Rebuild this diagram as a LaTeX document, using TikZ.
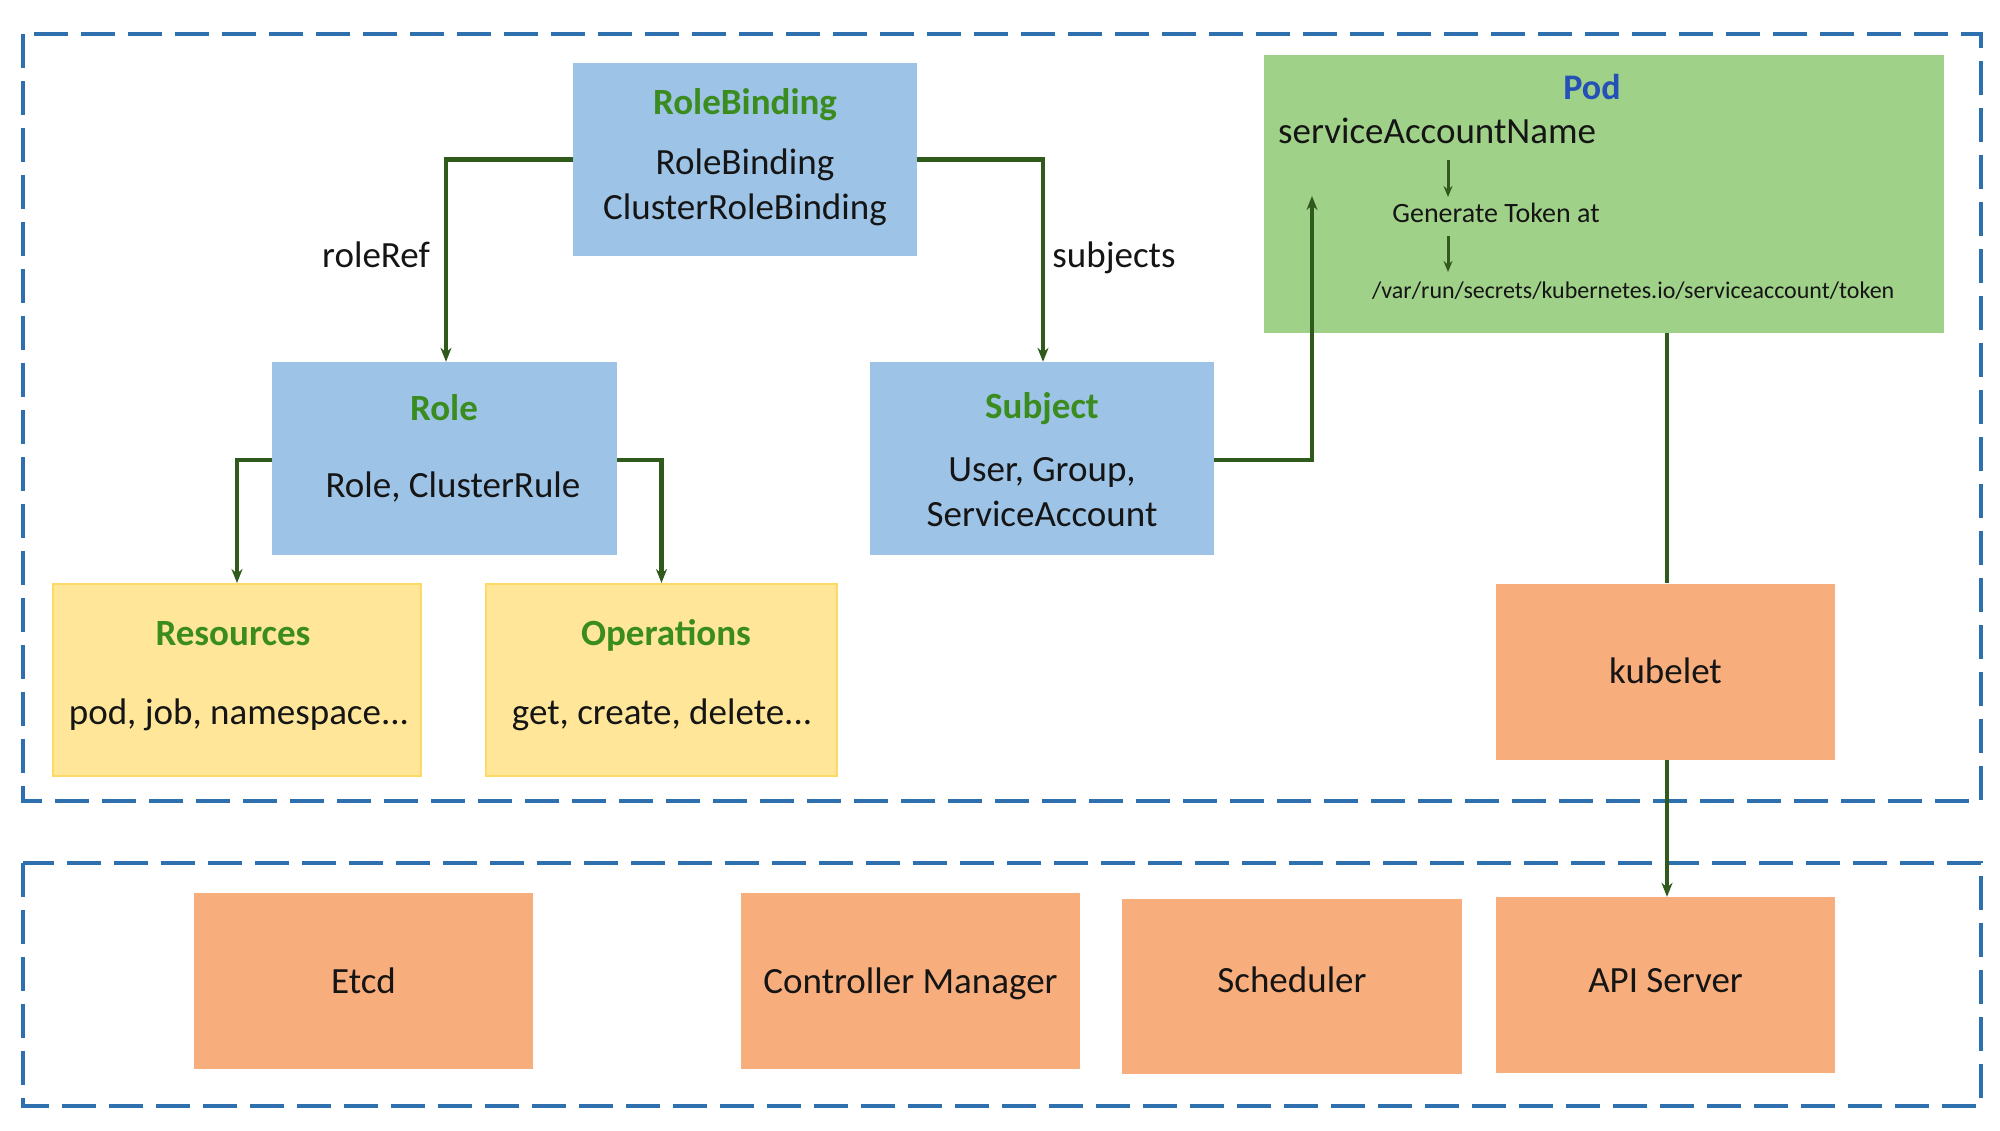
\documentclass[tikz,border=0pt]{standalone}
\usepackage{fontspec}
\setmainfont{Carlito}
\usetikzlibrary{arrows.meta}
\definecolor{boxblue}{HTML}{9DC3E6}
\definecolor{boxyellow}{HTML}{FFE699}
\definecolor{yellowedge}{HTML}{FFD966}
\definecolor{boxorange}{HTML}{F8AE7C}
\definecolor{boxgreen}{HTML}{A0D188}
\definecolor{titlegreen}{HTML}{3B8C1E}
\definecolor{podblue}{HTML}{2450B8}
\definecolor{conngreen}{HTML}{2F5A1C}
\definecolor{dashblue}{HTML}{2E6FAE}
\definecolor{txt}{HTML}{151515}
\begin{document}
\begin{tikzpicture}[x=1pt,y=-1pt,
  box/.style={rectangle,inner sep=0pt,minimum width=#1},
  bluebox/.style={box=344,fill=boxblue,minimum height=193},
  yellowbox/.style={box=#1,fill=boxyellow,draw=yellowedge,line width=2pt,minimum height=192},
  orangebox/.style={box=339,fill=boxorange,minimum height=176,font=\fontsize{37}{45}\selectfont,text=txt,text height=26pt,text depth=2pt},
  ttl/.style={font=\fontsize{37}{45}\selectfont\bfseries,text=titlegreen,inner sep=0pt,text height=6.8pt,text depth=2pt},
  body/.style={font=\fontsize{37}{45}\selectfont,text=txt,inner sep=0pt,text height=6.8pt,text depth=2pt},
  group/.style={draw=dashblue,line width=4pt,dash pattern=on 34pt off 13pt},
  conn/.style={draw=conngreen,line width=4.5pt},
  arr/.style={conn,-{Stealth[length=14pt,width=11pt]}},
  sarr/.style={draw=conngreen,line width=3pt,-{Stealth[length=11pt,width=9pt]}}
]
\useasboundingbox (0,0) rectangle (2000,1130);
\fill[white] (0,0) rectangle (2000,1130);

% groups
\draw[group] (23,34) rectangle (1981,801);
\draw[group] (23,863) rectangle (1981,1106);

% RoleBinding
\node[bluebox] (rb) at (745,159.5) {};
\node[ttl] (rbt) at (745,112) {RoleBinding};
\node[body] (rbb1) at (745,172) {RoleBinding};
\node[body] (rbb2) at (745,217) {ClusterRoleBinding};

% Role
\node[bluebox,minimum width=345] (role) at (444.5,458.5) {};
\node[ttl] (rolet) at (444,418) {Role};
\node[body] (roleb) at (453,495) {Role, ClusterRule};

% Subject
\node[bluebox] (subj) at (1042,458.5) {};
\node[ttl] (subjt) at (1042,416) {Subject};
\node[body] (subjb1) at (1042,479) {User, Group,};
\node[body] (subjb2) at (1042,524) {ServiceAccount};

% Resources / Operations
\node[yellowbox=368] (res) at (237,680) {};
\node[ttl] (rest) at (233,643) {Resources};
\node[body] (resb) at (239,722) {pod, job, namespace...};
\node[yellowbox=351] (ops) at (661.5,680) {};
\node[ttl] (opst) at (666,643) {Operations};
\node[body] (opsb) at (662,722) {get, create, delete...};

% Pod
\node[box=680,fill=boxgreen,minimum height=278] (pod) at (1604,194) {};
\node[ttl,text=podblue,font=\fontsize{36}{44}\selectfont\bfseries] (podt) at (1592,97) {Pod};
\node[body,anchor=west] (san) at (1278,141) {serviceAccountName};
\node[body,font=\fontsize{28}{34}\selectfont] (gen) at (1496,220) {Generate Token at};
\node[body,font=\fontsize{24}{30}\selectfont,anchor=west] (path) at (1372,296) {/var/run/secrets/kubernetes.io/serviceaccount/token};
\coordinate (a1s) at (1448,160);
\coordinate (a1e) at (1448,197);
\coordinate (a2s) at (1448,236);
\coordinate (a2e) at (1448,272);
\draw[sarr] (a1s) -- (a1e);
\draw[sarr] (a2s) -- (a2e);
\coordinate (podin) at (1312,196);

% kubelet and control plane
\node[orangebox] (kubelet) at (1665.5,671.5) {kubelet};
\node[orangebox] (etcd) at (363.5,981) {Etcd};
\node[orangebox] (cm) at (910.5,981) {Controller Manager};
\node[orangebox,minimum width=340,minimum height=175,text height=14pt] (sched) at (1292,986.5) {Scheduler};
\node[orangebox,text height=16pt] (api) at (1665.5,985) {API Server};

% labels
\node[body] (rref) at (376,265) {roleRef};
\node[body] (subs) at (1114,265) {subjects};

% connectors
\draw[arr] (rb.west) -| ([xshift=1.5pt]role.north);
\draw[arr] (rb.east) -| ([xshift=1pt]subj.north);
\draw[arr] ([yshift=-1.5pt]role.west) -| (res.north);
\draw[arr] ([yshift=-1.5pt]role.east) -| (ops.north);
\draw[arr] ([yshift=-1.5pt]subj.east) -| (podin);
\draw[conn] ([xshift=1.5pt]kubelet.north |- pod.south) -- ([xshift=1.5pt]kubelet.north);
\draw[arr] ([xshift=1.5pt]kubelet.south) -- ([xshift=1.5pt]api.north);
\end{tikzpicture}
\end{document}
